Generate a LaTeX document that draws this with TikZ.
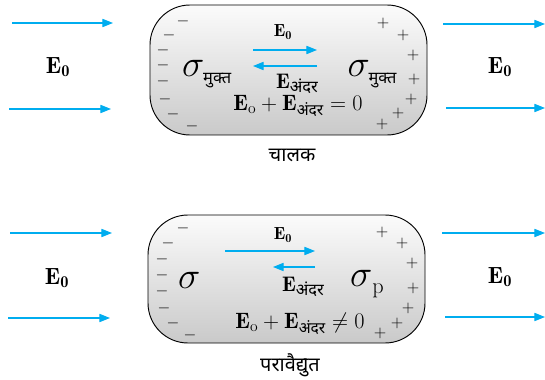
\RequirePackage{fix-cm}
\documentclass[tikz,border=0pt]{standalone}
\usepackage{amsmath}
\usepackage{fontspec}
\newfontfamily\hindi[Script=Devanagari]{Noto Sans}
\usetikzlibrary{arrows.meta}
\definecolor{fieldcyan}{RGB}{0,173,239}
\tikzset{
  field/.style={draw=fieldcyan, line width=0.9pt, -{Triangle[length=9pt,width=7pt]}},
  slab/.style={draw=black, line width=0.8pt, rounded corners=1.2cm, top color=gray!3, bottom color=gray!42},
  chg/.style={inner sep=0pt, font=\fontsize{14}{14}\selectfont},
  lbl/.style={inner sep=0pt},
}
\newcommand{\Eout}{\fontsize{20}{20}\selectfont$\mathbf{E}_{\mathbf{0}}$}
\newcommand{\Ein}{\fontsize{15}{15}\selectfont$\mathbf{E}_{\mathbf{0}}$}
\newcommand{\Eandar}{\fontsize{18}{18}\selectfont$\mathbf{E}$\raisebox{-3pt}{\fontsize{14}{14}\selectfont\hindi अंदर}}
\newcommand{\sigmuk}{\fontsize{32}{32}\selectfont$\sigma$\hspace{-1pt}\raisebox{-6pt}{\fontsize{14}{14}\selectfont\hindi मुक्त}}
\begin{document}
\begin{tikzpicture}
% \clip (0,0) rectangle (16.35,11.37);
\useasboundingbox (0,0) rectangle (16.35,11.37);

% Drawing conductor slab
\draw [slab] (4.50,7.32) rectangle (12.81,11.22);
\node [lbl] (chalak) at (8.76,6.72) {\fontsize{17}{17}\selectfont\hindi चालक};

% Drawing outside field, conductor
\coordinate (tl1s) at (0.36,10.68); \coordinate (tl1e) at (3.39,10.68);
\coordinate (tl2s) at (0.27,8.10);  \coordinate (tl2e) at (3.33,8.10);
\coordinate (tr1s) at (13.29,10.65); \coordinate (tr1e) at (16.35,10.65);
\coordinate (tr2s) at (13.38,8.13);  \coordinate (tr2e) at (16.35,8.13);
\draw [field] (tl1s) -- (tl1e);
\draw [field] (tl2s) -- (tl2e);
\draw [field] (tr1s) -- (tr1e);
\draw [field] (tr2s) -- (tr2e);
\node [lbl] (tEl) at (1.74,9.36) {\Eout};
\node [lbl] (tEr) at (15.00,9.36) {\Eout};

% Drawing fields inside conductor
\node [lbl] (tE0) at (8.49,10.41) {\Ein};
\coordinate (tins) at (7.59,9.87); \coordinate (tine) at (9.51,9.87);
\coordinate (tinds) at (9.51,9.39); \coordinate (tinde) at (7.59,9.39);
\draw [field] (tins) -- (tine);
\draw [field] (tinds) -- (tinde);
\node [lbl] (tEa) at (8.91,8.86) {\Eandar};
\node [lbl] (tsl) at (6.20,9.15) {\sigmuk};
\node [lbl] (tsr) at (11.16,9.15) {\sigmuk};
\node [lbl] (teq) at (8.94,8.20) {\fontsize{19}{19}\selectfont$\mathbf{E}_{\mathrm{o}}+\mathbf{E}_{\text{\hindi अंदर}}=0$};

% Marking charges on conductor
\node [chg] (tm1) at (5.49,10.74) {$-$};
\node [chg] (tm2) at (5.07,10.32) {$-$};
\node [chg] (tm3) at (4.89,9.86) {$-$};
\node [chg] (tm4) at (4.89,9.42) {$-$};
\node [chg] (tm5) at (4.89,8.94) {$-$};
\node [chg] (tm6) at (4.95,8.40) {$-$};
\node [chg] (tm7) at (5.19,7.95) {$-$};
\node [chg] (tm8) at (5.76,7.59) {$-$};
\node [chg] (tp1) at (11.49,10.68) {$+$};
\node [chg] (tp2) at (12.09,10.32) {$+$};
\node [chg] (tp3) at (12.39,9.72) {$+$};
\node [chg] (tp4) at (12.42,9.00) {$+$};
\node [chg] (tp5) at (12.33,8.40) {$+$};
\node [chg] (tp6) at (11.94,7.98) {$+$};
\node [chg] (tp7) at (11.46,7.65) {$+$};

% Drawing dielectric slab
\draw [slab] (4.44,1.08) rectangle (12.75,4.92);
\node [lbl] (paravaidyut) at (8.70,0.42) {\fontsize{17}{17}\selectfont\hindi परावैद्युत};

% Drawing outside field, dielectric
\coordinate (bl1s) at (0.30,4.38);  \coordinate (bl1e) at (3.36,4.38);
\coordinate (bl2s) at (0.24,1.83);  \coordinate (bl2e) at (3.30,1.83);
\coordinate (br1s) at (13.26,4.38); \coordinate (br1e) at (16.35,4.38);
\coordinate (br2s) at (13.35,1.86); \coordinate (br2e) at (16.35,1.86);
\draw [field] (bl1s) -- (bl1e);
\draw [field] (bl2s) -- (bl2e);
\draw [field] (br1s) -- (br1e);
\draw [field] (br2s) -- (br2e);
\node [lbl] (bEl) at (1.71,3.03) {\Eout};
\node [lbl] (bEr) at (15.00,3.06) {\Eout};

% Drawing fields inside dielectric
\node [lbl] (bE0) at (8.49,4.32) {\Ein};
\coordinate (bins) at (6.75,3.84); \coordinate (bine) at (9.45,3.84);
\coordinate (binds) at (9.45,3.36); \coordinate (binde) at (8.19,3.36);
\draw [field] (bins) -- (bine);
\draw [field] (binds) -- (binde);
\node [lbl] (bEa) at (9.09,2.77) {\Eandar};
\node [lbl] (bsl) at (5.68,2.97) {\fontsize{32}{32}\selectfont$\sigma$};
\node [lbl] (bsp) at (11.01,2.85) {\fontsize{32}{32}\selectfont$\sigma$\raisebox{-6pt}{\fontsize{19}{19}\selectfont p}};
\node [lbl] (beq) at (9.00,1.66) {\fontsize{19}{19}\selectfont$\mathbf{E}_{\mathrm{o}}+\mathbf{E}_{\text{\hindi अंदर}}\neq0$};

% Marking charges on dielectric
\node [chg] (bm1) at (5.49,4.53) {$-$};
\node [chg] (bm2) at (5.04,4.08) {$-$};
\node [chg] (bm3) at (4.86,3.59) {$-$};
\node [chg] (bm4) at (4.86,3.12) {$-$};
\node [chg] (bm5) at (4.86,2.64) {$-$};
\node [chg] (bm6) at (4.92,2.12) {$-$};
\node [chg] (bm7) at (5.19,1.68) {$-$};
\node [chg] (bm8) at (5.70,1.32) {$-$};
\node [chg] (bp1) at (11.46,4.41) {$+$};
\node [chg] (bp2) at (12.06,4.08) {$+$};
\node [chg] (bp3) at (12.36,3.48) {$+$};
\node [chg] (bp4) at (12.39,2.73) {$+$};
\node [chg] (bp5) at (12.24,2.13) {$+$};
\node [chg] (bp6) at (11.91,1.68) {$+$};
\node [chg] (bp7) at (11.40,1.38) {$+$};
\end{tikzpicture}
\end{document}
